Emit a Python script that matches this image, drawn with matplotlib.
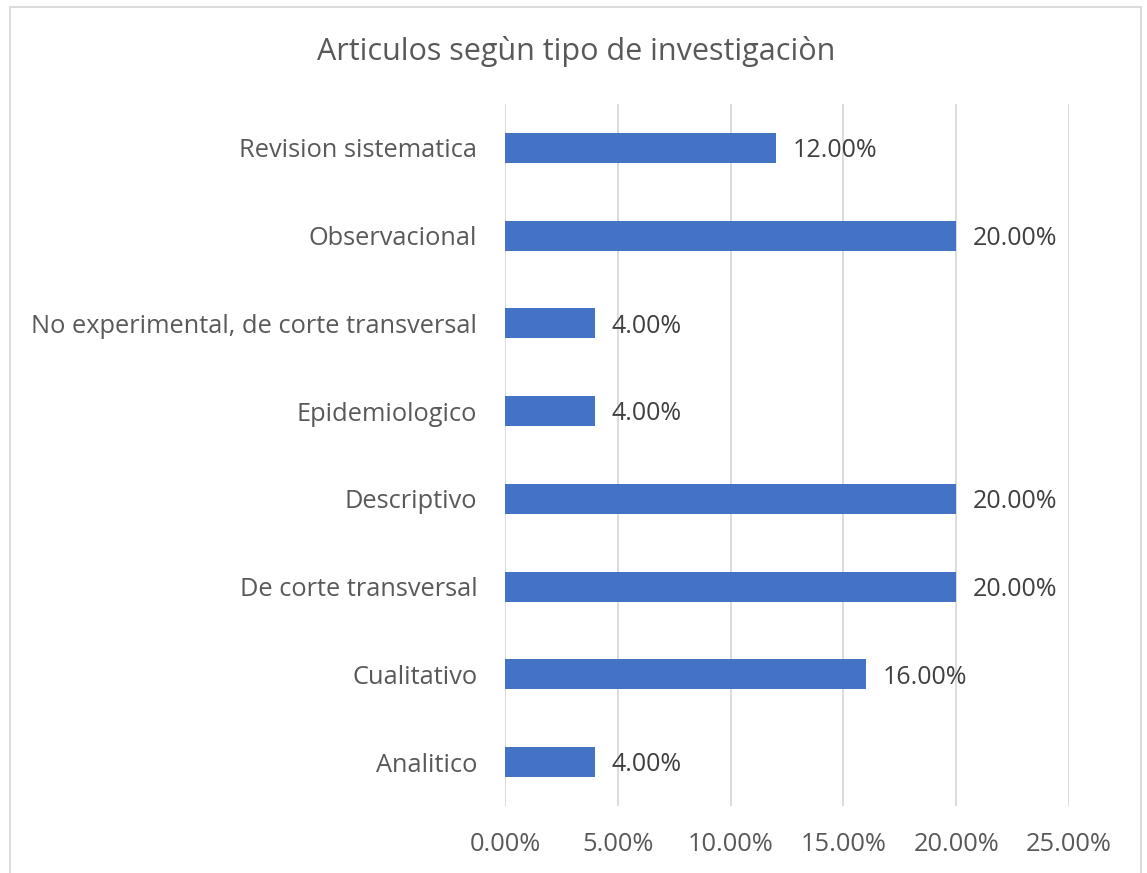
import matplotlib.pyplot as plt
from matplotlib.patches import Rectangle
from matplotlib.ticker import FuncFormatter

categories = ['Analitico', 'Cualitativo', 'De corte transversal', 'Descriptivo',
              'Epidemiologico', 'No experimental, de corte transversal',
              'Observacional', 'Revision sistematica']
values = [0.04, 0.16, 0.20, 0.20, 0.04, 0.04, 0.20, 0.12]
xticks = [0.0, 0.05, 0.10, 0.15, 0.20, 0.25]
title = 'Articulos segùn tipo de investigaciòn'

text_color = '#595959'
bar_color = '#4472C4'
grid_color = '#d9d9d9'

plt.rcParams['font.family'] = ['Open Sans', 'DejaVu Sans']

fig = plt.figure(figsize=(11.47, 8.73), dpi=100)
ax = fig.add_axes([0.4403, 0.0767, 0.4917, 0.8042])

pos = list(range(len(categories)))
ax.barh(pos, values, height=0.34, color=bar_color, zorder=3)
for p, v in zip(pos, values):
    ax.annotate(f'{v * 100:.2f}%', (v, p), xytext=(12, -2), textcoords='offset points',
                va='center', ha='left', fontsize=18, color='#404040', zorder=4)

ax.set_xlim(0, 0.25)
ax.set_ylim(-0.5, len(categories) - 0.5)
ax.set_xticks(xticks)
ax.xaxis.set_major_formatter(FuncFormatter(lambda x, _: f'{x * 100:.2f}%'))
ax.set_yticks(pos)
ax.set_yticklabels(categories)
ax.tick_params(axis='both', length=0, labelsize=18.3, labelcolor=text_color)
ax.tick_params(axis='y', pad=20)
ax.tick_params(axis='x', pad=19)
ax.grid(axis='x', color=grid_color, linewidth=1.3, zorder=0)
for s in ax.spines.values():
    s.set_visible(False)

fig.text(0.502, 0.941, title, ha='center', va='center', fontsize=22, color=text_color)

# chart border like the spreadsheet frame
fig.patches.append(Rectangle((10 / 1147, -0.05), 1131 / 1147, 1 - 7 / 873 + 0.05,
                             transform=fig.transFigure, fill=False,
                             edgecolor=grid_color, linewidth=1.3))

fig.savefig('out.png', dpi=100)
